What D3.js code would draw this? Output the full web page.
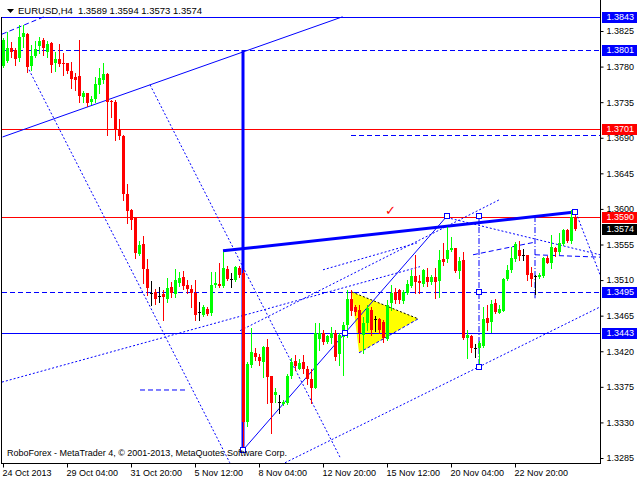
<!DOCTYPE html>
<html><head><meta charset="utf-8">
<script src="https://cdn.jsdelivr.net/npm/d3@7"></script>
<style>
body{margin:0;background:#fff;}
svg{display:block;}
text{font-family:"Liberation Sans",Arial,sans-serif;}
</style></head><body>
<svg id="c" width="640" height="480"></svg>
<script>
// ---------- DATA ----------
const symbolName = "EURUSD,H4";
const footerText = "RoboForex - MetaTrader 4, \u00A9 2001-2013, MetaQuotes Software Corp.";
const timeTicks = [0,16,32,48,64,80,96,112,128];
const timeLabels = ["24 Oct 2013","29 Oct 04:00","31 Oct 20:00","5 Nov 12:00","8 Nov 04:00","12 Nov 20:00","15 Nov 12:00","20 Nov 04:00","22 Nov 20:00"];
const priceTicks = [1.3825,1.3780,1.3735,1.3690,1.3645,1.3600,1.3555,1.3510,1.3465,1.3420,1.3375,1.3330,1.3285];

const opens=[1.3781,1.3787,1.3803,1.3801,1.3791,1.3818,1.3821,1.3781,1.3793,1.3806,
1.3814,1.3799,1.3810,1.3785,1.3789,1.3785,1.3784,1.3775,1.3767,1.3768,
1.3742,1.3746,1.3735,1.3739,1.3757,1.3763,1.3771,1.3737,1.3735,1.3701,
1.3692,1.3619,1.3599,1.3590,1.3543,1.3556,1.3524,1.3494,1.3495,1.3490,
1.3493,1.3486,1.3501,1.3492,1.3506,1.3514,1.3504,1.3499,1.3494,1.3470,
1.3466,1.3474,1.3468,1.3504,1.3505,1.3503,1.3524,1.3511,1.3510,1.3525,
1.3519,1.3330,1.3403,1.3418,1.3413,1.3406,1.3425,1.3389,1.3365,1.3356,
1.3353,1.3354,1.3389,1.3408,1.3398,1.3406,1.3398,1.3385,1.3374,1.3436,
1.3443,1.3432,1.3437,1.3443,1.3416,1.3438,1.3453,1.3486,1.3476,1.3472,
1.3441,1.3456,1.3472,1.3461,1.3461,1.3457,1.3436,1.3481,1.3495,1.3497,
1.3484,1.3494,1.3503,1.3515,1.3509,1.3505,1.3514,1.3508,1.3514,1.3509,
1.3537,1.3537,1.3548,1.3551,1.3522,1.3535,1.3437,1.3439,1.3424,1.3424,
1.3427,1.3462,1.3457,1.3481,1.3469,1.3471,1.3512,1.3523,1.3537,1.3548,
1.3542,1.3542,1.3519,1.3515,1.3514,1.3515,1.3538,1.3532,1.3551,1.3546,
1.3556,1.3573,1.3559,1.3589];
const highs=[1.3816,1.3824,1.3811,1.3803,1.3832,1.3832,1.3823,1.3807,1.3812,1.3817,
1.3816,1.3812,1.3811,1.3798,1.3809,1.3797,1.3785,1.3786,1.3772,1.3813,
1.3749,1.3747,1.3743,1.3767,1.3778,1.3785,1.3772,1.3738,1.3738,1.3714,
1.3693,1.3632,1.3600,1.3590,1.3560,1.3566,1.3537,1.3509,1.3499,1.3501,
1.3498,1.3513,1.3508,1.3524,1.3520,1.3522,1.3510,1.3504,1.3510,1.3482,
1.3479,1.3476,1.3520,1.3520,1.3532,1.3546,1.3528,1.3519,1.3528,1.3528,
1.3523,1.3406,1.3449,1.3424,1.3416,1.3427,1.3436,1.3389,1.3374,1.3365,
1.3358,1.3391,1.3412,1.3415,1.3410,1.3415,1.3401,1.3398,1.3456,1.3456,
1.3447,1.3441,1.3451,1.3447,1.3443,1.3457,1.3498,1.3498,1.3479,1.3479,
1.3463,1.3479,1.3476,1.3464,1.3462,1.3460,1.3485,1.3504,1.3500,1.3499,
1.3498,1.3510,1.3523,1.3542,1.3517,1.3524,1.3525,1.3517,1.3525,1.3548,
1.3557,1.3577,1.3564,1.3551,1.3539,1.3546,1.3447,1.3440,1.3429,1.3433,
1.3476,1.3479,1.3485,1.3486,1.3479,1.3513,1.3529,1.3552,1.3558,1.3559,
1.3549,1.3542,1.3527,1.3517,1.3519,1.3539,1.3541,1.3567,1.3552,1.3570,
1.3575,1.3574,1.3599,1.3594];
const lows=[1.3780,1.3786,1.3792,1.3782,1.3787,1.3805,1.3773,1.3776,1.3792,1.3797,
1.3795,1.3792,1.3773,1.3774,1.3781,1.3769,1.3772,1.3753,1.3750,1.3735,
1.3735,1.3730,1.3733,1.3735,1.3746,1.3759,1.3694,1.3716,1.3687,1.3689,
1.3611,1.3582,1.3575,1.3538,1.3542,1.3506,1.3491,1.3478,1.3480,1.3482,
1.3460,1.3482,1.3489,1.3489,1.3502,1.3499,1.3494,1.3476,1.3460,1.3460,
1.3465,1.3466,1.3466,1.3501,1.3501,1.3501,1.3510,1.3501,1.3509,1.3514,
1.3295,1.3325,1.3400,1.3409,1.3403,1.3388,1.3355,1.3317,1.3356,1.3342,
1.3352,1.3353,1.3386,1.3396,1.3397,1.3393,1.3379,1.3355,1.3373,1.3422,
1.3429,1.3430,1.3431,1.3409,1.3403,1.3390,1.3438,1.3466,1.3466,1.3432,
1.3418,1.3447,1.3440,1.3445,1.3443,1.3432,1.3434,1.3472,1.3481,1.3481,
1.3481,1.3492,1.3501,1.3494,1.3494,1.3503,1.3502,1.3505,1.3487,1.3489,
1.3529,1.3533,1.3547,1.3520,1.3513,1.3436,1.3412,1.3419,1.3413,1.3400,
1.3425,1.3447,1.3444,1.3469,1.3469,1.3471,1.3510,1.3520,1.3534,1.3536,
1.3536,1.3510,1.3502,1.3492,1.3513,1.3514,1.3531,1.3525,1.3540,1.3543,
1.3555,1.3558,1.3557,1.3573];
const closes=[1.3814,1.3804,1.3799,1.3789,1.3818,1.3822,1.3780,1.3793,1.3802,1.3812,
1.3803,1.3808,1.3782,1.3789,1.3783,1.3783,1.3775,1.3764,1.3763,1.3743,
1.3747,1.3734,1.3739,1.3758,1.3765,1.3770,1.3735,1.3735,1.3701,1.3692,
1.3619,1.3597,1.3586,1.3544,1.3555,1.3524,1.3500,1.3494,1.3486,1.3490,
1.3489,1.3500,1.3494,1.3510,1.3513,1.3503,1.3499,1.3494,1.3466,1.3470,
1.3476,1.3467,1.3504,1.3506,1.3503,1.3525,1.3511,1.3511,1.3527,1.3517,
1.3331,1.3404,1.3419,1.3413,1.3408,1.3425,1.3388,1.3355,1.3369,1.3356,
1.3356,1.3389,1.3406,1.3401,1.3405,1.3398,1.3385,1.3374,1.3443,1.3443,
1.3432,1.3439,1.3443,1.3413,1.3440,1.3453,1.3486,1.3471,1.3470,1.3443,
1.3456,1.3475,1.3447,1.3461,1.3447,1.3437,1.3479,1.3494,1.3485,1.3485,
1.3495,1.3505,1.3515,1.3507,1.3506,1.3523,1.3508,1.3514,1.3507,1.3536,
1.3533,1.3548,1.3551,1.3521,1.3534,1.3437,1.3441,1.3424,1.3424,1.3430,
1.3461,1.3456,1.3480,1.3470,1.3474,1.3512,1.3523,1.3538,1.3556,1.3541,
1.3542,1.3516,1.3512,1.3515,1.3517,1.3538,1.3532,1.3552,1.3546,1.3557,
1.3573,1.3560,1.3590,1.3574];

// horizontal levels (prices)
const blueSolidLevels = [1.3843, 1.3443];
const blueDashLevels = [1.3801, 1.3495];
const redLevels = [1.3701, 1.3590];
const partialDashLevel = [87, 1.3694];          // [start bar, price]
const lastPrice = 1.3574;

// trend objects: [bar1, price1, bar2, price2]
const thinLines = [[-0.1,1.3691,84.9,1.3843],[60,1.3295,111,1.3591]];
const thickLines = [[55,1.3547,143,1.3596],[60,1.3801,60,1.3295]];
const dottedLines = [
  [6.5,1.3776,56.7,1.3279],
  [36.75,1.3757,84.25,1.3286],
  [70.5,1.3279,149.25,1.3476],
  [-0.25,1.3381,104.25,1.3527],
  [59.25,1.3446,124.25,1.3612],
  [80,1.3523,103.5,1.3557],
  [111,1.3589,149.25,1.3542],
  [143.25,1.3595,149.25,1.3517]
];
const dashedLines = [
  [-0.25,1.3821,10.25,1.3843],
  [34.25,1.3371,45.5,1.3371],
  [117.5,1.3542,133,1.3558],
  [133,1.3542,149.25,1.3539]
];
const dashDotLines = [[119,1.3591,119,1.3400],[133,1.3591,133,1.3487]];
const anchorPoints = [[60,1.3295],[85.5,1.3443],[111,1.3591],[119,1.3591],[119,1.3495],[119,1.3400],[143,1.3596]];
const trianglePts = [[87.2,1.3495],[89,1.3418],[103.8,1.3461]];
const checkMark = [96.75,1.3598];

// ---------- DRAW ----------
const BLUE="#0000ff", RED="#ff0000", GREEN="#00ff00";
const L=2, R=600, T=0, B=463;
const svg=d3.select('#c');
const x=d3.scaleLinear().domain([0,143]).range([3,575]);
const y=d3.scaleLinear().domain([1.3285,1.3825]).range([458,31]);

svg.append('defs').append('clipPath').attr('id','plot')
  .append('rect').attr('x',L).attr('y',T).attr('width',R-L).attr('height',B-T);
const plot=svg.append('g').attr('clip-path','url(#plot)');

// triangle
plot.append('polygon')
  .attr('points',trianglePts.map(d=>[x(d[0]),y(d[1])].join(',')).join(' '))
  .attr('fill','#ffff00');
plot.append('line').attr('x1',x(trianglePts[0][0])).attr('y1',y(trianglePts[0][1]))
  .attr('x2',x(trianglePts[2][0])).attr('y2',y(trianglePts[2][1]))
  .attr('stroke','#000').attr('stroke-dasharray','2,2');
plot.append('line').attr('x1',x(trianglePts[1][0])).attr('y1',y(trianglePts[1][1]))
  .attr('x2',x(trianglePts[2][0])).attr('y2',y(trianglePts[2][1]))
  .attr('stroke',BLUE).attr('stroke-dasharray','3,2');

function hline(p,color,dash){
  const yy=Math.round(y(p))+0.5;
  plot.append('line').attr('x1',L).attr('x2',R).attr('y1',yy).attr('y2',yy)
    .attr('stroke',color).attr('stroke-width',1).attr('stroke-dasharray',dash||null)
    .attr('shape-rendering','crispEdges');
}
blueSolidLevels.forEach(p=>hline(p,BLUE));
blueDashLevels.forEach(p=>hline(p,BLUE,'5,3'));
redLevels.forEach(p=>hline(p,RED));
{
  const yy=Math.round(y(partialDashLevel[1]))+0.5;
  plot.append('line').attr('x1',x(partialDashLevel[0])).attr('x2',R).attr('y1',yy).attr('y2',yy)
    .attr('stroke',BLUE).attr('stroke-dasharray','5,3').attr('shape-rendering','crispEdges');
}

function seg(d,color,w,dash){
  plot.append('line').attr('x1',x(d[0])).attr('y1',y(d[1])).attr('x2',x(d[2])).attr('y2',y(d[3]))
    .attr('stroke',color).attr('stroke-width',w).attr('stroke-dasharray',dash||null);
}
dottedLines.forEach(d=>seg(d,BLUE,1,'2,2'));
dashedLines.forEach(d=>seg(d,BLUE,1,'5,3'));
dashDotLines.forEach(d=>seg([Math.round(x(d[0]))+0.5,0,0,0].length?d:d,BLUE,1,'6,2,1,2'));
thinLines.forEach(d=>seg(d,BLUE,1));
thickLines.forEach(d=>seg(d,BLUE,3));

// candles
const cg=plot.append('g');
opens.forEach((o,i)=>{
  const h=highs[i], l=lows[i], c=closes[i];
  const col = c>o ? GREEN : (c<o ? RED : '#000');
  const cx=Math.round(x(i));
  cg.append('line').attr('x1',cx+0.5).attr('x2',cx+0.5)
    .attr('y1',Math.round(y(h))).attr('y2',Math.round(y(l))+1)
    .attr('stroke',col).attr('shape-rendering','crispEdges');
  const top=Math.round(y(Math.max(o,c))), bot=Math.round(y(Math.min(o,c)));
  cg.append('rect').attr('x',cx-1).attr('y',top).attr('width',3).attr('height',Math.max(1,bot-top))
    .attr('fill',col).attr('shape-rendering','crispEdges');
});

// anchor squares
anchorPoints.forEach(d=>{
  plot.append('rect').attr('x',Math.round(x(d[0]))-2.5).attr('y',Math.round(y(d[1]))-2.5)
    .attr('width',5).attr('height',5).attr('fill','#fff').attr('stroke',BLUE);
});

// check mark
plot.append('text').attr('x',x(checkMark[0])-5).attr('y',y(checkMark[1])+5)
  .attr('fill',RED).attr('font-size',13).style('font-family','DejaVu Sans').text('\u2713');

// frame
svg.append('line').attr('x1',L-0.5).attr('x2',L-0.5).attr('y1',17).attr('y2',B+0.5).attr('stroke','#000');
svg.append('line').attr('x1',L-1).attr('x2',R+0.5).attr('y1',B+0.5).attr('y2',B+0.5).attr('stroke','#000');
svg.append('line').attr('x1',R+0.5).attr('x2',R+0.5).attr('y1',0).attr('y2',B+1).attr('stroke','#000');

// right axis
const ya=svg.append('g').attr('transform',`translate(${R+0.5},0)`)
  .call(d3.axisRight(y).tickValues(priceTicks).tickSize(3).tickPadding(3).tickFormat(d=>d.toFixed(4)));
ya.select('.domain').remove();
ya.selectAll('line').attr('stroke','#000');
ya.selectAll('text').attr('font-size',9).attr('fill','#000').style('font-family','"Liberation Sans",Arial,sans-serif');

// level boxes
function box(p,color){
  const yy=Math.round(y(p));
  svg.append('rect').attr('x',R+2).attr('y',yy-5).attr('width',35).attr('height',11).attr('fill',color);
  svg.append('text').attr('x',R+6.5).attr('y',yy).attr('dy','0.35em').attr('font-size',9)
    .attr('fill','#fff').text(p.toFixed(4));
}
blueSolidLevels.forEach(p=>box(p,BLUE));
blueDashLevels.forEach(p=>box(p,BLUE));
redLevels.forEach(p=>box(p,RED));
box(lastPrice,'#000');

// bottom axis
const xa=svg.append('g').attr('transform',`translate(0,${B+0.5})`)
  .call(d3.axisBottom(x).tickValues(timeTicks).tickSize(4).tickFormat((d,i)=>timeLabels[i]));
xa.select('.domain').remove();
xa.selectAll('line').attr('stroke','#000');
xa.selectAll('text').attr('font-size',9).attr('fill','#000').attr('text-anchor','start')
  .attr('x',-1).attr('y',12).attr('dy',0).style('font-family','"Liberation Sans",Arial,sans-serif');

// title
const lastI=opens.length-1;
svg.append('path').attr('d','M7,9 L14,9 L10.5,13 Z').attr('fill','#000');
svg.append('text').attr('x',18).attr('y',14).attr('font-size',9.5).attr('fill','#000')
  .text(symbolName)
  .append('tspan').attr('dx',5)
  .text([opens[lastI],highs[lastI],lows[lastI],closes[lastI]].map(v=>v.toFixed(4)).join(' '));

// footer
svg.append('text').attr('x',7).attr('y',456).attr('font-size',9).attr('fill','#000').text(footerText);
</script>
</body></html>
